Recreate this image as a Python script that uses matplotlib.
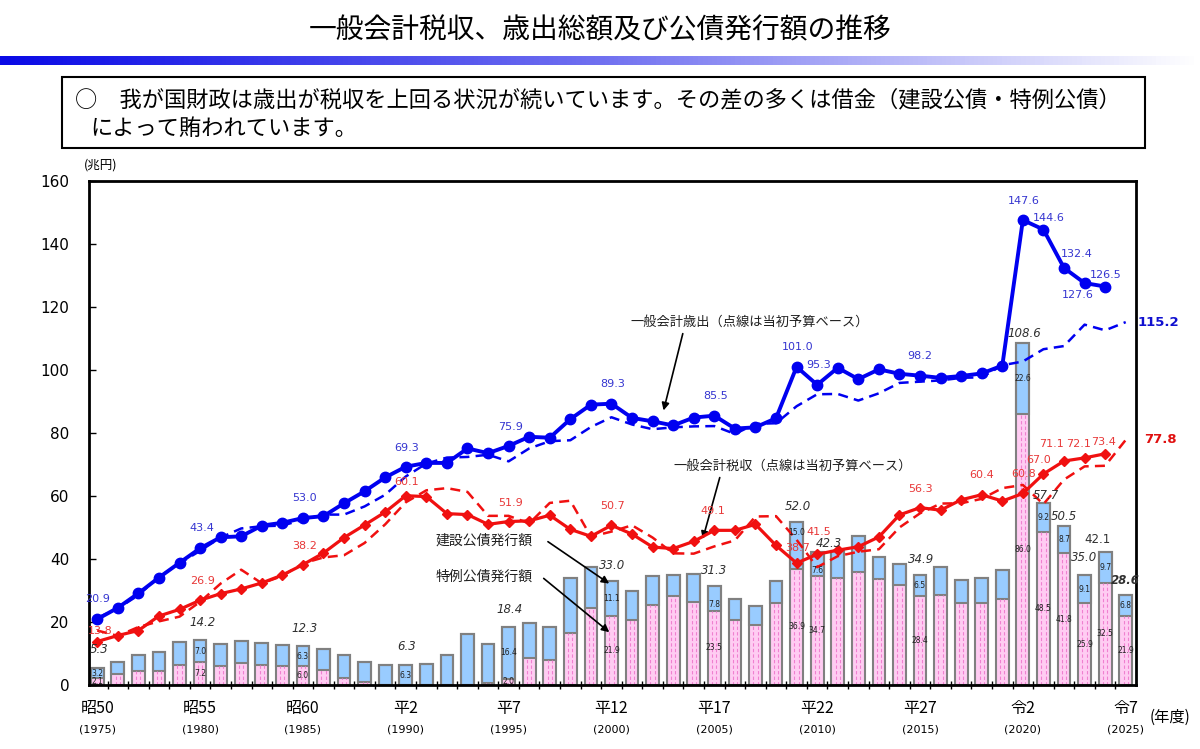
import numpy as np
import matplotlib
matplotlib.use('Agg')
import matplotlib.pyplot as plt
from matplotlib.colors import LinearSegmentedColormap
from matplotlib.patches import Rectangle
from matplotlib.ticker import FixedLocator, NullLocator

plt.rcParams['font.family'] = ['DejaVu Sans', 'Noto Sans CJK JP']
JP = ['Noto Sans CJK JP', 'DejaVu Sans']

# 年度 (昭50=1975 ～ 令7=2025)
years = list(range(1975, 2026))

# 一般会計歳出 (決算等, 1975-2024)
spend = [20.9, 24.5, 29.1, 34.1, 38.8, 43.4, 46.9, 47.2, 50.6, 51.5,
         53.0, 53.6, 57.7, 61.5, 65.9, 69.3, 70.5, 70.5, 75.1, 73.6,
         75.9, 78.8, 78.5, 84.4, 89.0, 89.3, 84.8, 83.7, 82.4, 84.9,
         85.5, 81.4, 81.8, 84.7, 101.0, 95.3, 100.7, 97.1, 100.2, 98.8,
         98.2, 97.5, 98.1, 98.9, 101.4, 147.6, 144.6, 132.4, 127.6, 126.5]

# 一般会計税収 (1975-2024)
tax = [13.8, 15.7, 17.3, 21.9, 24.0, 26.9, 29.0, 30.5, 32.4, 34.9,
       38.2, 41.9, 46.8, 50.8, 54.9, 60.1, 59.8, 54.4, 54.1, 51.0,
       51.9, 52.1, 53.9, 49.4, 47.2, 50.7, 47.9, 43.8, 43.3, 45.6,
       49.1, 49.1, 51.0, 44.3, 38.7, 41.5, 42.8, 43.9, 47.0, 54.0,
       56.3, 55.5, 58.8, 60.4, 58.4, 60.8, 67.0, 71.1, 72.1, 73.4]

# 当初予算ベース (1975-2025)
spend_budget = [21.3, 24.3, 28.5, 34.3, 38.6, 42.6, 46.8, 49.7, 50.4, 50.6,
                52.5, 54.1, 54.1, 56.7, 60.4, 66.2, 70.3, 72.2, 72.4, 73.1,
                71.0, 75.1, 77.4, 77.7, 81.9, 85.0, 82.7, 81.2, 81.8, 82.1,
                82.2, 79.7, 82.9, 83.1, 88.5, 92.3, 92.4, 90.3, 92.6, 95.9,
                96.3, 96.7, 97.5, 97.7, 101.5, 102.7, 106.6, 107.6, 114.4, 112.6,
                115.2]
tax_budget = [17.3, 15.6, 18.4, 20.2, 21.7, 26.4, 32.2, 36.6, 32.3, 34.6,
              38.6, 40.5, 41.2, 45.1, 51.0, 58.0, 61.8, 62.5, 61.3, 53.7,
              53.7, 51.3, 57.8, 58.5, 47.1, 48.7, 50.7, 46.8, 41.8, 41.7,
              44.0, 45.9, 53.5, 53.6, 46.1, 37.4, 40.9, 42.3, 43.1, 50.0,
              54.5, 57.6, 57.7, 59.1, 62.5, 63.5, 57.4, 65.2, 69.4, 69.6,
              77.8]

# 公債発行額 (1975-2025)
bond_con = [3.2, 3.7, 5.0, 6.3, 7.1, 7.0, 7.0, 7.0, 6.9, 6.6,
            6.3, 6.5, 7.1, 6.3, 6.4, 6.3, 6.7, 9.5, 16.2, 12.3,
            16.4, 11.1, 10.3, 17.3, 13.2, 11.1, 9.1, 9.3, 6.6, 8.6,
            7.8, 6.6, 6.2, 7.1, 15.0, 7.6, 8.4, 11.4, 7.0, 6.6,
            6.5, 9.0, 7.3, 8.2, 9.2, 22.6, 9.2, 8.7, 9.1, 9.7,
            6.8]
bond_spe = [2.1, 3.5, 4.5, 4.3, 6.4, 7.2, 5.9, 6.9, 6.5, 6.1,
            6.0, 4.8, 2.3, 0.9, 0.0, 0.0, 0.0, 0.0, 0.0, 0.7,
            2.0, 8.5, 8.0, 16.6, 24.3, 21.9, 20.6, 25.4, 28.3, 26.5,
            23.5, 20.6, 19.0, 25.9, 36.9, 34.7, 34.1, 36.0, 33.7, 31.7,
            28.4, 28.6, 25.9, 25.9, 27.2, 86.0, 48.5, 41.8, 25.9, 32.5,
            21.9]

# 表示ラベル
spend_label_years = [1975, 1980, 1985, 1990, 1995, 2000, 2005, 2009, 2010,
                     2015, 2020, 2021, 2022, 2023, 2024]
tax_label_years = [1975, 1980, 1985, 1990, 1995, 2000, 2005, 2009, 2010,
                   2015, 2018, 2020, 2021, 2022, 2023, 2024]
total_label_years = [1975, 1980, 1985, 1990, 1995, 2000, 2005, 2009, 2010,
                     2015, 2020, 2021, 2022, 2023, 2024, 2025]
total_label_values = [5.3, 14.2, 12.3, 6.3, 18.4, 33.0, 31.3, 52.0, 42.3,
                      34.9, 108.6, 57.7, 50.5, 35.0, 42.1, 28.6]
era_years = [1975, 1980, 1985, 1990, 1995, 2000, 2005, 2010, 2015, 2020, 2025]
era_labels = ['昭50', '昭55', '昭60', '平2', '平7', '平12', '平17', '平22',
              '平27', '令2', '令7']

# ラベルのずらし量 (px)
spend_off = [(0, 20), (2, 20), (2, 20), (1, 19), (2, 19), (1, 20), (1, 20),
             (1, 20), (1, 20), (0, 20), (1, 19), (5, 12), (13, 14), (-7, -12),
             (1, 12)]
tax_off = [(3, 11), (2, 19), (2, 19), (1, 14), (2, 19), (1, 19), (-1, 19),
           (1, 15), (2, 22), (0, 19), (0, 20), (1, 19), (-5, 14), (-13, 17),
           (-6, 14), (-2, 12)]
total_off = [(2, 19), (2, 18), (2, 18), (1, 19), (1, 18), (1, 16), (0, 16),
             (1, 15), (12, 8), (1, 16), (1, 9), (2, 8), (0, 9), (0, 17),
             (-8, 13), (0, 14)]
# 建設公債の内訳ラベルの上下ずらし (兆円)
inner_shift = {2005: -2.0, 2009: 4.0, 2010: -2.2}

BLUE = '#0000F0'
RED = '#F01010'
BLUE_TXT = '#3535D0'
RED_TXT = '#E83838'
PX = 0.72  # px -> pt

fig = plt.figure(figsize=(12, 7.49), dpi=100)
fig.patch.set_facecolor('white')

# タイトル
fig.text(0.5, 1 - 30 / 749, '一般会計税収、歳出総額及び公債発行額の推移',
         ha='center', va='center', fontsize=20, family=JP)

# グラデーション帯
gax = fig.add_axes([0, 1 - 65 / 749, 1, 9 / 749])
cmap = LinearSegmentedColormap.from_list('g', ['#0A0AE6', '#7070F0', '#FFFFFF'])
gax.imshow(np.linspace(0, 1, 400).reshape(1, -1), aspect='auto', cmap=cmap)
gax.axis('off')

# 説明の枠
fig.patches.append(Rectangle((62 / 1200, 1 - 148 / 749), (1145 - 62) / 1200, 71 / 749,
                             transform=fig.transFigure, fill=False,
                             edgecolor='black', lw=1.5))
fig.text(75 / 1200, 1 - 100 / 749,
         '○　我が国財政は歳出が税収を上回る状況が続いています。その差の多くは借金（建設公債・特例公債）',
         ha='left', va='center', fontsize=16, family=JP)
fig.text(90 / 1200, 1 - 128 / 749, 'によって賄われています。',
         ha='left', va='center', fontsize=16, family=JP)

ax = fig.add_axes([89 / 1200, 64 / 749, 1047 / 1200, 504 / 749])

# 公債発行額 (積み上げ棒)
w = 0.62
yrs = np.array(years)
ax.bar(yrs, bond_spe, width=w, color='#FFCCF2', edgecolor='none', zorder=2)
ax.bar(yrs, bond_con, width=w, bottom=bond_spe, color='#99CCFF',
       edgecolor='#808080', lw=1.5, zorder=2)
tot = np.array(bond_con) + np.array(bond_spe)
ax.bar(yrs, tot, width=w, color='none', edgecolor='#808080', lw=1.5, zorder=2.5)
for dx in (-w / 6, w / 6):
    ax.vlines(yrs + dx, 0, bond_spe, colors='#F080D0', lw=0.8,
              linestyles=(0, (3, 2)), zorder=2.2)

# 当初予算 (点線)
ax.plot(yrs, spend_budget, color=BLUE, lw=1.8, dashes=(4, 2.5), zorder=3)
ax.plot(yrs, tax_budget, color=RED, lw=1.8, dashes=(4, 2.5), zorder=3)

# 決算 (実線)
ax.plot(yrs[:len(spend)], spend, color=BLUE, lw=2.8, marker='o', ms=7.5, zorder=4)
ax.plot(yrs[:len(tax)], tax, color=RED, lw=2.3, marker='D', ms=5.5, zorder=4)

# 数値ラベル
for yr, (dx, dy) in zip(spend_label_years, spend_off):
    v = spend[years.index(yr)]
    ax.annotate(f'{v:.1f}', (yr, v), xytext=(dx * PX, dy * PX),
                textcoords='offset points', ha='center', va='center',
                fontsize=8, color=BLUE_TXT, zorder=6)
for yr, (dx, dy) in zip(tax_label_years, tax_off):
    v = tax[years.index(yr)]
    ax.annotate(f'{v:.1f}', (yr, v), xytext=(dx * PX, dy * PX),
                textcoords='offset points', ha='center', va='center',
                fontsize=8, color=RED_TXT, zorder=6)
for yr, v, (dx, dy) in zip(total_label_years, total_label_values, total_off):
    top = tot[years.index(yr)]
    style = 'italic' if yr != 2024 else 'normal'
    weight = 'bold' if yr == 2025 else 'normal'
    ax.annotate(f'{v:.1f}', (yr, top), xytext=(dx * PX, dy * PX),
                textcoords='offset points', ha='center', va='center',
                fontsize=8.5, color='#303030', style=style, weight=weight, zorder=6)
for yr in total_label_years:
    i = years.index(yr)
    c, s = bond_con[i], bond_spe[i]
    ax.text(yr, s + c / 2 + inner_shift.get(yr, 0), f'{c:.1f}', ha='center',
            va='center', fontsize=5.5, color='#202020', zorder=6)
    if s > 0:
        ax.text(yr, s / 2, f'{s:.1f}', ha='center', va='center',
                fontsize=5.5, color='#202020', zorder=6)

# 令和7年度 (当初)
ax.annotate(f'{spend_budget[-1]:.1f}', (years[-1], spend_budget[-1]),
            xytext=(33 * PX, 0), textcoords='offset points', ha='center',
            va='center', fontsize=9.5, weight='bold', color='#1010D0',
            annotation_clip=False)
ax.annotate(f'{tax_budget[-1]:.1f}', (years[-1], tax_budget[-1]),
            xytext=(35 * PX, 0), textcoords='offset points', ha='center',
            va='center', fontsize=9.5, weight='bold', color='#E01010',
            annotation_clip=False)

# 注記と矢印
arrow = dict(arrowstyle='-|>', color='black', lw=1.2, mutation_scale=11)
ax.text(2006.7, 115.3, '一般会計歳出（点線は当初予算ベース）', ha='center',
        va='center', fontsize=9.5, family=JP, color='#202020')
ax.annotate('', xy=(2002.5, 86.3), xytext=(2003.5, 112.4), arrowprops=arrow)
ax.text(2008.8, 69.5, '一般会計税収（点線は当初予算ベース）', ha='center',
        va='center', fontsize=9.5, family=JP, color='#202020')
ax.annotate('', xy=(2004.4, 45.5), xytext=(2005.3, 66.7), arrowprops=arrow)
ax.text(1993.8, 46.0, '建設公債発行額', ha='center', va='center',
        fontsize=10, family=JP, color='#202020')
ax.annotate('', xy=(2000.0, 31.7), xytext=(1996.8, 46.0), arrowprops=arrow)
ax.text(1993.8, 34.4, '特例公債発行額', ha='center', va='center',
        fontsize=10, family=JP, color='#202020')
ax.annotate('', xy=(2000.0, 16.2), xytext=(1996.6, 34.4), arrowprops=arrow)

# 軸
ax.set_xlim(1974.6, 2025.5)
ax.set_ylim(0, 160)
ax.set_yticks(range(0, 161, 20))
ax.tick_params(axis='y', direction='in', length=5, width=1, labelsize=11, pad=14)
ax.xaxis.set_major_locator(NullLocator())
ax.xaxis.set_minor_locator(FixedLocator([y + 0.5 for y in years[:-1]]))
ax.tick_params(axis='x', which='minor', direction='inout', length=6, width=1)
for sp in ax.spines.values():
    sp.set_linewidth(2)
    sp.set_color('black')

tr = ax.get_xaxis_transform()
for yr, lab in zip(era_years, era_labels):
    ax.text(yr, -0.046, lab, transform=tr, ha='center', va='center',
            fontsize=11.5, family=JP)
    ax.text(yr, -0.089, f'({yr})', transform=tr, ha='center', va='center',
            fontsize=8)
ax.text(1.032, -0.065, '(年度)', transform=ax.transAxes, ha='center',
        va='center', fontsize=11, family=JP)
ax.text(0.0115, 1.032, '(兆円)', transform=ax.transAxes, ha='center',
        va='center', fontsize=9, family=JP)

fig.savefig('out.png', dpi=100)
